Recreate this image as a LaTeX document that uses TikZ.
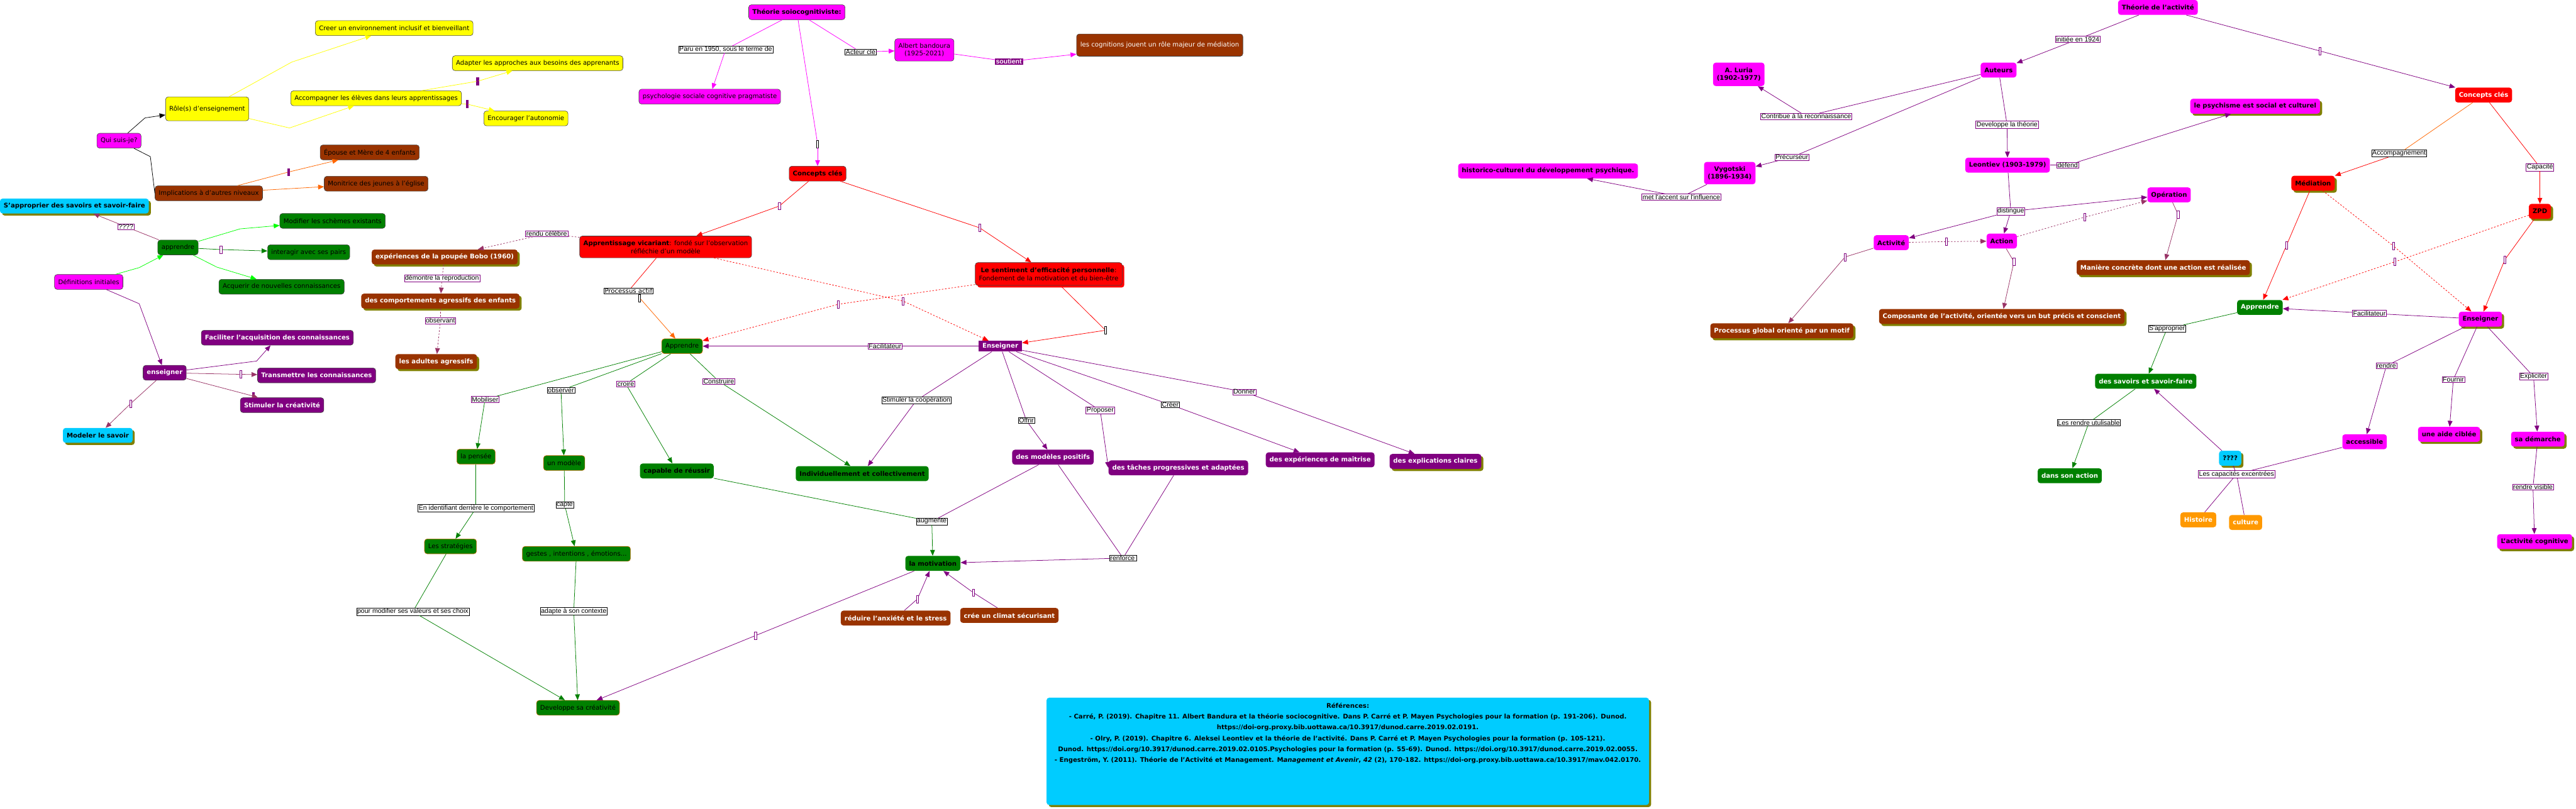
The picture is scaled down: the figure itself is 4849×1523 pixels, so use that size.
\documentclass[tikz,border=0pt]{standalone}
\usepackage{fontspec}
\setmainfont{DejaVu Sans}
\newfontfamily\cmaplinkfamily{Liberation Sans}
\usepackage{tikz}
\usetikzlibrary{arrows.meta,shadows}
\definecolor{cmapYellow}{RGB}{255,255,0}
\definecolor{cmapPink}{RGB}{255,0,255}
\definecolor{cmapBrown}{RGB}{153,51,0}
\definecolor{cmapGreen}{RGB}{0,128,0}
\definecolor{cmapLime}{RGB}{0,255,0}
\definecolor{cmapPurple}{RGB}{128,0,128}
\definecolor{cmapMauve}{RGB}{153,51,102}
\definecolor{cmapRed}{RGB}{255,0,0}
\definecolor{cmapCyan}{RGB}{0,204,255}
\definecolor{cmapOrange}{RGB}{255,153,0}
\definecolor{cmapLineOrange}{RGB}{255,102,0}
\definecolor{cmapOlive}{RGB}{128,128,0}
\definecolor{cmapRim}{RGB}{204,102,0}
\newcommand{\cmapfont}{\fontsize{12}{15}\selectfont}
\newcommand{\cmaplinkfont}{\cmaplinkfamily\fontsize{12.5}{13}\selectfont}

\begin{document}
\begin{tikzpicture}[x=1pt, y=-1pt, line width=0.9pt, >={Triangle[length=11pt,width=9pt]},
    concept/.style={rectangle, rounded corners=5pt, draw=black!75, line width=0.7pt, inner xsep=7pt, inner ysep=3pt, minimum height=28pt, align=center, font=\cmapfont},
    sansbord/.style={draw=none},
    jaune/.style={concept, fill=cmapYellow},
    rose/.style={concept, fill=cmapPink},
    roseD/.style={rose, font=\cmapfont\bfseries},
    roseB/.style={rose, sansbord, font=\cmapfont\bfseries},
    brun/.style={concept, fill=cmapBrown},
    brunB/.style={brun, sansbord, text=white, font=\cmapfont\bfseries},
    vert/.style={concept, fill=cmapGreen},
    vertB/.style={vert, sansbord, font=\cmapfont\bfseries},
    vertW/.style={vertB, text=white},
    violetB/.style={concept, fill=cmapPurple, text=white, font=\cmapfont\bfseries},
    rouge/.style={concept, fill=cmapRed},
    rougeB/.style={rouge, font=\cmapfont\bfseries},
    cyanB/.style={concept, sansbord, fill=cmapCyan, font=\cmapfont\bfseries},
    orangeB/.style={concept, sansbord, fill=cmapOrange, text=white, font=\cmapfont\bfseries},
    ombre/.style={drop shadow={shadow xshift=4pt, shadow yshift=-4pt, fill=cmapOlive, opacity=1}},
    lien/.style={draw=cmapPurple, fill=white, line width=0.6pt, inner xsep=1.5pt, inner ysep=1pt, font=\cmaplinkfont},
    lienN/.style={lien, draw=black},
    marque/.style={draw=cmapPurple, fill=white, line width=0.6pt, minimum width=4pt, minimum height=14pt, inner sep=0pt},
    marqueP/.style={marque, fill=cmapPurple}]

    \useasboundingbox (0,0) rectangle (4849,1523);

    % Qui suis-je
    \node[rose] (qui) at (224,265) {Qui suis-je?};
    \node[jaune, minimum height=45pt] (role) at (390,205) {Rôle(s) d'enseignement};
    \node[jaune] (creer) at (742,53) {Creer un environnement inclusif et bienveillant};
    \node[jaune] (adapter) at (1012,119) {Adapter les approches aux besoins des apprenants};
    \node[jaune] (accomp) at (708,185) {Accompagner les élèves dans leurs apprentissages};
    \node[jaune] (encour) at (990,223) {Encourager l'autonomie};
    \node[brun] (implic) at (393,364) {Implications à d'autres niveaux};
    \node[brun] (epouse) at (696,287) {Épouse et Mère de 4 enfants};
    \node[brun] (monitrice) at (708,346) {Monitrice des jeunes à l'église};

    \coordinate (quiRole) at (273,222);
    \coordinate (quiImpl) at (283,295);
    \coordinate (roleCreer) at (549,117);
    \coordinate (roleAccomp) at (545,241);
    \node[marqueP] (mAdapt) at (899,153) {};
    \node[marqueP] (mEncour) at (879,196) {};
    \node[marqueP] (mEpouse) at (543,324) {};

    \draw (qui) -- (quiRole);
    \draw[->] (quiRole) -- (role);
    \draw (qui) -- (quiImpl) -- (implic.west);
    \draw[cmapYellow] (role) -- (roleCreer);
    \draw[cmapYellow, ->] (roleCreer) -- (creer);
    \draw[cmapYellow] (role) -- (roleAccomp);
    \draw[cmapYellow, ->] (roleAccomp) -- (accomp);
    \draw[cmapYellow] (accomp) -- (mAdapt);
    \draw[cmapYellow, ->] (mAdapt) -- (adapter);
    \draw[cmapYellow] (accomp) -- (mEncour);
    \draw[cmapYellow, ->] (mEncour) -- (encour);
    \draw[cmapLineOrange] (implic) -- (mEpouse);
    \draw[cmapLineOrange, ->] (mEpouse) -- (epouse);
    \draw[cmapLineOrange, ->] (implic) -- (monitrice);

    % Definitions initiales
    \node[rose] (defin) at (167,531) {Définitions initiales};
    \node[cyanB, ombre] (sappro) at (140,388) {S'approprier des savoirs et savoir-faire};
    \node[vert] (apprG) at (335,466) {apprendre};
    \node[vert] (modif) at (626,416) {Modifier les schèmes existants};
    \node[vert] (interag) at (581,475) {interagir avec ses pairs};
    \node[vert] (acquer) at (530,540) {Acquerir de nouvelles connaissances};
    \node[violetB] (enseiG) at (310,702) {enseigner};
    \node[violetB] (facil) at (522,636) {Faciliter l'acquisition des connaissances};
    \node[violetB] (transm) at (596,707) {Transmettre les connaissances};
    \node[violetB] (stimcrea) at (531,763) {Stimuler la créativité};
    \node[cyanB, ombre] (modeler) at (184,820) {Modeler le savoir};

    \node[lien] (lQuestion) at (237,427) {????};
    \coordinate (definAppr) at (262,504);
    \coordinate (apprModif) at (452,431);
    \coordinate (apprAcquer) at (408,503);
    \coordinate (definEns) at (262,572);
    \coordinate (ensFacil) at (483,680);
    \node[marque] (mInterag) at (416,470) {};
    \node[marque] (mTransm) at (453,705) {};
    \node[marqueP] (mStim) at (477,746) {};
    \node[marque] (mModeler) at (246,760) {};

    \draw[cmapMauve] (apprG) -- (lQuestion);
    \draw[cmapMauve, ->] (lQuestion) -- (sappro);
    \draw[cmapLime] (defin) -- (definAppr);
    \draw[cmapLime, ->] (definAppr) -- (apprG);
    \draw[cmapLime] (apprG) -- (apprModif);
    \draw[cmapLime, ->] (apprModif) -- (modif);
    \draw[cmapGreen] (apprG) -- (mInterag);
    \draw[cmapGreen, ->] (mInterag) -- (interag);
    \draw[cmapLime] (apprG) -- (apprAcquer);
    \draw[cmapLime, ->] (apprAcquer) -- (acquer);
    \draw[cmapPurple] (defin) -- (definEns);
    \draw[cmapPurple, ->] (definEns) -- (enseiG);
    \draw[cmapPurple] (enseiG) -- (ensFacil);
    \draw[cmapPurple, ->] (ensFacil) -- (facil);
    \draw[cmapMauve] (enseiG) -- (mTransm);
    \draw[cmapMauve, ->] (mTransm) -- (transm);
    \draw[cmapMauve] (enseiG) -- (mStim);
    \draw[cmapMauve, ->] (mStim) -- (stimcrea);
    \draw[cmapMauve] (enseiG) -- (mModeler);
    \draw[cmapMauve, ->] (mModeler) -- (modeler);

    % Poupee Bobo
    \node[brunB, ombre] (bobo) at (837,484) {expériences de la poupée Bobo (1960)};
    \node[brunB, ombre] (comport) at (829,567) {des comportements agressifs des enfants};
    \node[brunB, ombre] (adultes) at (821,681) {les adultes agressifs};
    \node[lien] (lDemontre) at (832,524) {démontre la reproduction};
    \node[lien] (lObservant) at (829,604) {observant};
    \draw[cmapMauve, dashed] (bobo) -- (lDemontre);
    \draw[cmapMauve, dashed, ->] (lDemontre) -- (comport);
    \draw[cmapMauve, dashed] (comport) -- (lObservant);
    \draw[cmapMauve, dashed, ->] (lObservant) -- (adultes);

    % Theorie sociocognitiviste
    \node[roseD] (theoSC) at (1500,23) {Théorie soiocognitiviste:};
    \node[rose] (psycho) at (1336,182) {psychologie sociale cognitive pragmatiste};
    \node[rose, minimum height=42pt] (albert) at (1740,94) {Albert bandoura\\(1925-2021)};
    \node[brun, text=white, minimum height=42pt] (cognit) at (2183,85) {les cognitions jouent un rôle majeur de médiation};
    \node[rougeB] (conceptsM) at (1539,327) {Concepts clés};
    \node[rouge, minimum height=41pt] (vicar) at (1253,465) {\textbf{Apprentissage vicariant}: fondé sur l’observation\\réfléchie d’un modèle};
    \node[rouge, minimum height=43pt, drop shadow={shadow xshift=4pt, shadow yshift=-4pt, fill=cmapRed, opacity=1}] (sentim) at (1974,516) {\textbf{Le sentiment d’efficacité personnelle}:\\Fondement de la motivation et du bien-être};
    \node[vert, draw=cmapLineOrange] (apprM) at (1284,652) {Apprendre};
    \node[violetB, sansbord, sharp corners, minimum height=20pt, inner ysep=1pt] (enseiM) at (1883,652) {Enseigner};

    \node[lienN] (lParu) at (1366,93) {Paru en 1950, sous le terme de};
    \node[lienN] (lActeur) at (1620,98) {Acteur clé};
    \node[lien, fill=cmapPurple, text=white, font=\cmaplinkfont\bfseries] (lSoutient) at (1899,116) {soutient};
    \node[marque, draw=black] (mTheoConc) at (1539,271) {};
    \node[marque] (mVicar) at (1467,388) {};
    \node[marque] (mSentim) at (1844,429) {};
    \node[lienN, font=\cmapfont] (lProcessus) at (1183,548) {Processus actif};
    \node[marque, draw=black] (mProc) at (1204,561) {};
    \node[marque] (mVicEns) at (1700,567) {};
    \node[marque] (mSenApp) at (1578,573) {};
    \node[marque, draw=black] (mSenEns) at (2081,622) {};
    \node[lien] (lFacilM) at (1666,652) {Facilitateur};
    \node[lien] (lRendu) at (1029,440) {rendu célèbre};
    \node[lien] (lMobiliser) at (913,752) {Mobiliser};

    \draw[cmapPink] (theoSC) -- (lParu);
    \draw[cmapPink, ->] (lParu) -- (psycho);
    \draw[cmapPink] (theoSC) -- (lActeur);
    \draw[cmapPink, ->] (lActeur) -- (albert);
    \draw[cmapPink] (albert) -- (lSoutient);
    \draw[cmapPink, ->] (lSoutient) -- (cognit);
    \draw[cmapPink] (theoSC) -- (mTheoConc);
    \draw[cmapPink, ->] (mTheoConc) -- (conceptsM);
    \draw[cmapRed] (conceptsM) -- (mVicar);
    \draw[cmapRed, ->] (mVicar) -- (vicar);
    \draw[cmapRed] (conceptsM) -- (mSentim);
    \draw[cmapRed, ->] (mSentim) -- (sentim);
    \draw[cmapRed] (vicar) -- (lProcessus);
    \draw[cmapLineOrange, ->] (mProc) -- (apprM);
    \draw[cmapRed, dashed] (vicar) -- (mVicEns);
    \draw[cmapRed, dashed, ->] (mVicEns) -- (enseiM);
    \draw[cmapRed, dashed] (sentim) -- (mSenApp);
    \draw[cmapRed, dashed, ->] (mSenApp) -- (apprM);
    \draw[cmapRed] (sentim) -- (mSenEns);
    \draw[cmapRed, ->] (mSenEns) -- (enseiM);
    \draw[cmapPurple] (enseiM) -- (lFacilM);
    \draw[cmapPurple, ->] (lFacilM) -- (apprM);
    \draw[cmapMauve, dashed] (vicar) -- (lRendu);
    \draw[cmapMauve, dashed, ->] (lRendu) -- (bobo);

    % Apprendre et enseigner
    \node[vert, draw=cmapRim] (pensee) at (896,860) {la pensée};
    \node[vert, draw=cmapRim] (strateg) at (848,1029) {Les stratégies};
    \node[vert, draw=cmapRim] (modele) at (1062,872) {un modèle};
    \node[vert, draw=cmapRim] (gestes) at (1085,1043) {gestes , intentions , émotions...};
    \node[vert, draw=cmapRim] (devcrea) at (1088,1333) {Developpe sa créativité};
    \node[vertB] (capable) at (1274,887) {capable de réussir};
    \node[vertB] (indiv) at (1623,892) {Individuellement et collectivement};
    \node[vertB] (motiv) at (1756,1061) {la motivation};
    \node[brunB] (reduire) at (1686,1164) {réduire l’anxiété et le stress};
    \node[brunB] (climat) at (1900,1159) {crée un climat sécurisant};
    \node[violetB, sansbord] (modpos) at (1982,861) {des modèles positifs};
    \node[violetB, sansbord] (taches) at (2218,881) {des tâches progressives et adaptées};
    \node[violetB, sansbord] (maitrise) at (2485,866) {des expériences de maîtrise};
    \node[violetB, sansbord, ombre] (explic) at (2702,869) {des explications claires};

    \node[lienN] (lObserver) at (1056,735) {observer};
    \node[lien] (lCroire) at (1178,723) {croire};
    \node[lien] (lConstruire) at (1353,718) {Construire};
    \node[lienN] (lCoop) at (1725,754) {Stimuler la coopération};
    \node[lienN] (lOffrir) at (1932,792) {Offrir};
    \node[lien] (lProposer) at (2071,773) {Proposer};
    \node[lienN] (lCreer) at (2203,762) {Créer};
    \node[lien] (lDonner) at (2342,738) {Donner};
    \node[lienN] (lIdentif) at (896,957) {En identifiant derrière le comportement};
    \node[lienN] (lPourMod) at (777,1152) {pour modifier ses valeurs et ses choix};
    \node[lienN] (lCapte) at (1063,951) {capte};
    \node[lienN] (lAdapte) at (1080,1151) {adapte à son contexte};
    \node[lienN] (lAugmente) at (1754,982) {augmente};
    \node[lienN] (lRenforce) at (2114,1051) {renforce\,};
    \node[marque] (mMotDev) at (1422,1197) {};
    \node[marque] (mReduire) at (1727,1128) {};
    \node[marque] (mClimat) at (1832,1116) {};

    \draw[cmapGreen] (apprM) -- (lMobiliser);
    \draw[cmapGreen, ->] (lMobiliser) -- (pensee);
    \draw[cmapGreen] (apprM) -- (lObserver);
    \draw[cmapGreen, ->] (lObserver) -- (modele);
    \draw[cmapGreen] (apprM) -- (lCroire);
    \draw[cmapGreen, ->] (lCroire) -- (capable);
    \draw[cmapGreen] (apprM) -- (lConstruire);
    \draw[cmapGreen, ->] (lConstruire) -- (indiv);
    \draw[cmapPurple] (enseiM) -- (lCoop);
    \draw[cmapPurple, ->] (lCoop) -- (indiv);
    \draw[cmapPurple] (enseiM) -- (lOffrir);
    \draw[cmapPurple, ->] (lOffrir) -- (modpos);
    \draw[cmapPurple] (enseiM) -- (lProposer);
    \draw[cmapPurple, ->] (lProposer) -- (taches.west);
    \draw[cmapPurple] (enseiM) -- (lCreer);
    \draw[cmapPurple, ->] (lCreer) -- (maitrise);
    \draw[cmapPurple] (enseiM) -- (lDonner);
    \draw[cmapPurple, ->] (lDonner) -- (explic);
    \draw[cmapGreen] (pensee) -- (lIdentif);
    \draw[cmapGreen, ->] (lIdentif) -- (strateg);
    \draw[cmapGreen] (strateg) -- (lPourMod);
    \draw[cmapGreen, ->] (lPourMod) -- (devcrea);
    \draw[cmapGreen] (modele) -- (lCapte);
    \draw[cmapGreen, ->] (lCapte) -- (gestes);
    \draw[cmapGreen] (gestes) -- (lAdapte);
    \draw[cmapGreen, ->] (lAdapte) -- (devcrea);
    \draw[cmapGreen] (capable) -- (lAugmente);
    \draw[cmapPurple] (modpos) -- (lAugmente);
    \draw[cmapGreen, ->] (lAugmente) -- (motiv);
    \draw[cmapPurple] (modpos) -- (lRenforce);
    \draw[cmapPurple] (taches) -- (lRenforce);
    \draw[cmapPurple, ->] (lRenforce) -- (motiv);
    \draw[cmapPurple] (motiv) -- (mMotDev);
    \draw[cmapPurple, ->] (mMotDev) -- (devcrea);
    \draw[cmapPurple] (reduire) -- (mReduire);
    \draw[cmapPurple, ->] (mReduire) -- (motiv);
    \draw[cmapPurple] (climat) -- (mClimat);
    \draw[cmapPurple, ->] (mClimat) -- (motiv);

    % Theorie de l'activite
    \node[roseB] (theoAct) at (4062,14) {Théorie de l'activité};
    \node[roseB] (auteurs) at (3762,132) {Auteurs};
    \node[roseB, minimum height=44pt] (luria) at (3273,140) {A. Luria\\(1902-1977)};
    \node[roseB, minimum height=42pt] (vygot) at (3256,326) {Vygotski\\(1896-1934)};
    \node[roseB] (histor) at (2914,322) {historico-culturel du développement psychique.};
    \node[roseB] (leontiev) at (3779,311) {Leontiev (1903-1979)};
    \node[roseB, ombre] (psychisme) at (4245,200) {le psychisme est social et culturel};
    \node[roseB] (activite) at (3560,457) {Activité};
    \node[roseB] (action) at (3768,454) {Action};
    \node[roseB] (operation) at (4083,367) {Opération};
    \node[brunB, ombre] (procglob) at (3354,623) {Processus global orienté par un motif};
    \node[brunB, ombre] (composante) at (3768,596) {Composante de l’activité, orientée vers un but précis et conscient};
    \node[brunB, ombre] (maniere) at (4072,504) {Manière concrète  dont une action est réalisée};

    \node[lien] (lInitiee) at (3911,74) {initiée en 1924};
    \node[lien] (lContribue) at (3400,219) {Contribue à la reconnaissance};
    \node[lien] (lPrecurseur) at (3373,296) {Précurseur};
    \node[lien] (lMetAccent) at (3165,371) {met l'accent sur l'influence};
    \node[lien] (lDevTheorie) at (3778,235) {Developpe la théorie};
    \node[lien] (lDefend) at (3892,311) {défend};
    \node[lien] (lDistingue) at (3785,398) {distingue};
    \node[marque] (mTheoActConc) at (4367,96) {};
    \node[marque] (mActAct) at (3664,455) {};
    \node[marque] (mActOp) at (3924,409) {};
    \node[marque] (mActivProc) at (3473,484) {};
    \node[marque] (mActionComp) at (3791,493) {};
    \node[marque] (mOpMan) at (4100,404) {};

    \draw[cmapPurple] (theoAct) -- (lInitiee);
    \draw[cmapPurple, ->] (lInitiee) -- (auteurs);
    \draw[cmapPurple] (auteurs) -- (lContribue);
    \draw[cmapPurple, ->] (lContribue) -- (luria);
    \draw[cmapPurple] (auteurs) -- (lPrecurseur);
    \draw[cmapPurple, ->] (lPrecurseur) -- (vygot);
    \draw[cmapPurple] (vygot) -- (lMetAccent);
    \draw[cmapPurple, ->] (lMetAccent) -- (histor);
    \draw[cmapPurple] (auteurs) -- (lDevTheorie);
    \draw[cmapPurple, ->] (lDevTheorie) -- (leontiev);
    \draw[cmapPurple] (leontiev) -- (lDefend);
    \draw[cmapPurple, ->] (lDefend) -- (psychisme);
    \draw[cmapPurple] (leontiev) -- (lDistingue);
    \draw[cmapPurple, ->] (lDistingue) -- (activite);
    \draw[cmapPurple, ->] (lDistingue) -- (action);
    \draw[cmapPurple, ->] (lDistingue) -- (operation);
    \draw[cmapMauve, dashed] (activite) -- (mActAct);
    \draw[cmapMauve, dashed, ->] (mActAct) -- (action);
    \draw[cmapMauve, dashed] (action) -- (mActOp);
    \draw[cmapMauve, dashed, ->] (mActOp) -- (operation);
    \draw[cmapMauve] (activite) -- (mActivProc);
    \draw[cmapMauve, ->] (mActivProc) -- (procglob);
    \draw[cmapMauve] (action) -- (mActionComp);
    \draw[cmapMauve, ->] (mActionComp) -- (composante);
    \draw[cmapMauve] (operation) -- (mOpMan);
    \draw[cmapMauve, ->] (mOpMan) -- (maniere);

    % Concepts cles de l'activite
    \node[rougeB, sansbord, text=white] (conceptsR) at (4675,179) {Concepts clés};
    \node[rougeB, sansbord, ombre] (mediation) at (4354,345) {Médiation};
    \node[rougeB, sansbord, ombre] (zpd) at (4781,398) {ZPD};
    \node[vertW] (apprR) at (4254,579) {Apprendre};
    \node[roseB, ombre] (enseiR) at (4669,601) {Enseigner};
    \node[vertW] (savoirs) at (4039,718) {des savoirs et savoir-faire};
    \node[vertW] (dansAction) at (3896,896) {dans son action};
    \node[cyanB, ombre] (qqq) at (4198,863) {????};
    \node[orangeB] (histoire) at (4138,979) {Histoire};
    \node[orangeB] (culture) at (4227,984) {culture};
    \node[roseB] (accessible) at (4451,832) {accessible};
    \node[roseB, ombre] (aide) at (4610,818) {une aide ciblée};
    \node[roseB, ombre] (demarche) at (4777,827) {sa démarche};
    \node[roseB, ombre] (activCog) at (4771,1020) {L'activité cognitive};

    \node[lienN] (lAccomp) at (4516,289) {Accompagnement};
    \node[lien] (lCapacite) at (4781,315) {Capacité};
    \node[lien] (lFacilR) at (4460,590) {Facilitateur};
    \node[lienN] (lSappro) at (4079,619) {S'approprier};
    \node[lienN] (lRendreUtil) at (3932,796) {Les rendre utulisable};
    \node[lien] (lCapExc) at (4210,893) {Les capacités excentrées};
    \node[lien] (lRendre) at (4492,689) {rendre};
    \node[lien] (lFournir) at (4618,715) {Fournir};
    \node[lien] (lExpliciter) at (4769,709) {Expliciter};
    \node[lien] (lRendreVis) at (4768,917) {rendre visible};
    \node[marque] (mMedApp) at (4304,462) {};
    \node[marque] (mMedEns) at (4505,463) {};
    \node[marque] (mZpdApp) at (4508,493) {};
    \node[marque] (mZpdEns) at (4715,489) {};

    \draw[cmapPurple] (theoAct) -- (mTheoActConc);
    \draw[cmapPurple, ->] (mTheoActConc) -- (conceptsR);
    \draw[cmapLineOrange] (conceptsR) -- (lAccomp);
    \draw[cmapRed, ->] (lAccomp) -- (mediation);
    \draw[cmapRed] (conceptsR) -- (lCapacite);
    \draw[cmapRed, ->] (lCapacite) -- (zpd);
    \draw[cmapRed] (mediation) -- (mMedApp);
    \draw[cmapRed, ->] (mMedApp) -- (apprR);
    \draw[cmapRed, dashed] (mediation) -- (mMedEns);
    \draw[cmapRed, dashed, ->] (mMedEns) -- (enseiR);
    \draw[cmapRed, dashed] (zpd) -- (mZpdApp);
    \draw[cmapRed, dashed, ->] (mZpdApp) -- (apprR);
    \draw[cmapRed] (zpd) -- (mZpdEns);
    \draw[cmapRed, ->] (mZpdEns) -- (enseiR);
    \draw[cmapPurple] (enseiR) -- (lFacilR);
    \draw[cmapPurple, ->] (lFacilR) -- (apprR);
    \draw[cmapGreen] (apprR) -- (lSappro);
    \draw[cmapGreen, ->] (lSappro) -- (savoirs);
    \draw[cmapGreen] (savoirs) -- (lRendreUtil);
    \draw[cmapGreen, ->] (lRendreUtil) -- (dansAction);
    \draw[cmapPurple, ->] (qqq) -- (savoirs);
    \draw[cmapPurple] (qqq) -- (lCapExc);
    \draw[cmapPurple] (accessible) -- (lCapExc);
    \draw[cmapPurple] (lCapExc) -- (histoire);
    \draw[cmapPurple] (lCapExc) -- (culture);
    \draw[cmapPurple] (enseiR) -- (lRendre);
    \draw[cmapPurple, ->] (lRendre) -- (accessible);
    \draw[cmapPurple] (enseiR) -- (lFournir);
    \draw[cmapPurple, ->] (lFournir) -- (aide);
    \draw[cmapPurple] (enseiR) -- (lExpliciter);
    \draw[cmapPurple, ->] (lExpliciter) -- (demarche);
    \draw[cmapPurple] (demarche) -- (lRendreVis);
    \draw[cmapPurple, ->] (lRendreVis) -- (activCog);

    % References
    \node[cyanB, ombre, minimum width=1134pt, minimum height=202pt, inner xsep=4pt, font=\fontsize{12}{20.5}\selectfont\bfseries] (refs) at (2537,1415) {Références:\\
        - Carré, P. (2019). Chapitre 11. Albert Bandura et la théorie sociocognitive. Dans P. Carré et P. Mayen Psychologies pour la formation (p. 191-206). Dunod.\\
        https://doi-org.proxy.bib.uottawa.ca/10.3917/dunod.carre.2019.02.0191.\\
        - Olry, P. (2019). Chapitre 6. Aleksei Leontiev et la théorie de l’activité. Dans P. Carré et P. Mayen Psychologies pour la formation (p. 105-121).\\
        Dunod. https://doi.org/10.3917/dunod.carre.2019.02.0105.Psychologies pour la formation (p. 55-69). Dunod. https://doi.org/10.3917/dunod.carre.2019.02.0055.\\
        - Engeström, Y. (2011). Théorie de l'Activité et Management. M\textit{anagement et Avenir}, \textit{42} (2), 170-182. https://doi-org.proxy.bib.uottawa.ca/10.3917/mav.042.0170.\\[50pt]
        \mbox{}};
\end{tikzpicture}
\end{document}
